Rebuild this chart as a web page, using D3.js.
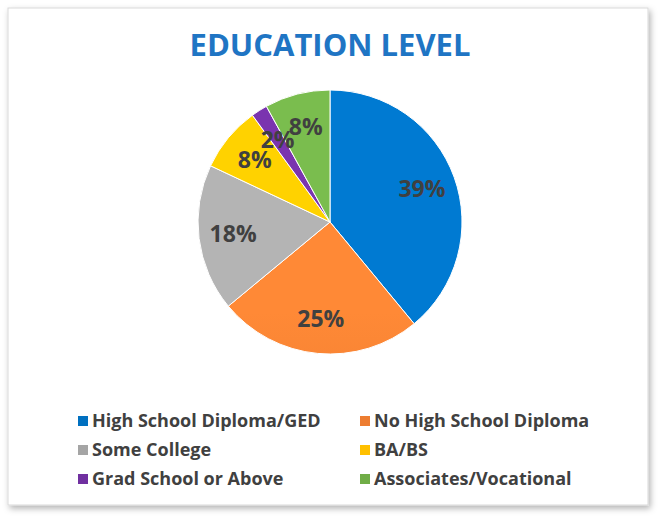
<!DOCTYPE html>
<html>
<head>
<meta charset="utf-8">
<script src="https://cdn.jsdelivr.net/npm/d3@7"></script>
<style>
  body { margin: 0; background: #fff; }
  svg { font-family: "Open Sans", "DejaVu Sans", sans-serif; }
</style>
</head>
<body>
<svg></svg>
<script>
let categories = ['High School Diploma/GED', 'No High School Diploma', 'Some College', 'BA/BS', 'Grad School or Above', 'Associates/Vocational']
let values = [39, 25, 18, 8, 2, 8]
let colors = ['#0070C0', '#ED7D31', '#A5A5A5', '#FFC000', '#7030A0', '#70AD47']

let width = 659
let height = 521
let cx = 330
let cy = 222
let radius = 132

let svg = d3.select('svg').attr('width', width).attr('height', height)

// card frame with soft shadow
let defs = svg.append('defs')
let shadow = defs.append('filter').attr('id', 'shadow').attr('x', '-5%').attr('y', '-5%').attr('width', '110%').attr('height', '110%')
shadow.append('feDropShadow').attr('dx', 2).attr('dy', 3).attr('stdDeviation', 3).attr('flood-color', '#000').attr('flood-opacity', 0.3)

svg.append('rect')
    .attr('x', 8).attr('y', 8).attr('width', 640).attr('height', 497)
    .attr('fill', '#fff').attr('stroke', '#d9d9d9')
    .attr('filter', 'url(#shadow)')

svg.append('text')
    .attr('x', cx).attr('y', 56)
    .attr('text-anchor', 'middle')
    .attr('fill', '#1F75C4')
    .attr('font-size', 31).attr('font-weight', 'bold')
    .text('EDUCATION LEVEL')

// gradients, lighter towards the top
colors.forEach((c, i) => {
    let g = defs.append('linearGradient').attr('id', 'g' + i)
        .attr('gradientUnits', 'userSpaceOnUse')
        .attr('x1', 0).attr('y1', cy - radius).attr('x2', 0).attr('y2', cy + radius)
    g.append('stop').attr('offset', '0%').attr('stop-color', d3.color(c).brighter(0.25))
    g.append('stop').attr('offset', '100%').attr('stop-color', d3.color(c).darker(0.15))
})

let pie = d3.pie().sort(null).value(d => d)
let arcs = pie(values)
let arc = d3.arc().innerRadius(0).outerRadius(radius)
let labelArc = d3.arc().innerRadius(radius * 0.74).outerRadius(radius * 0.74)

let chart = svg.append('g').attr('transform', `translate(${cx}, ${cy})`)

chart.selectAll('path')
    .data(arcs)
    .enter()
    .append('path')
    .attr('d', arc)
    .attr('fill', (d, i) => `url(#g${i})`)
    .attr('stroke', '#fff').attr('stroke-width', 1)

chart.selectAll('text')
    .data(arcs)
    .enter()
    .append('text')
    .attr('transform', d => `translate(${labelArc.centroid(d)})`)
    .attr('text-anchor', 'middle')
    .attr('dy', '0.35em')
    .attr('fill', '#404040')
    .attr('font-size', 23).attr('font-weight', 'bold')
    .text(d => d.data + '%')

// legend
let legendX = d3.scaleOrdinal().domain([0, 1]).range([78, 360])
let legendY = d3.scalePoint().domain([0, 1, 2]).range([421, 479])

let legend = svg.selectAll('.legend')
    .data(categories)
    .enter()
    .append('g')
    .attr('class', 'legend')
    .attr('transform', (d, i) => `translate(${legendX(i % 2)}, ${legendY(Math.floor(i / 2))})`)

legend.append('rect')
    .attr('x', 0).attr('y', -5).attr('width', 10).attr('height', 10)
    .attr('fill', (d, i) => colors[i])

legend.append('text')
    .attr('x', 14).attr('dy', '0.35em')
    .attr('fill', '#404040')
    .attr('font-size', 18).attr('font-weight', 'bold')
    .text(d => d)
</script>
</body>
</html>
